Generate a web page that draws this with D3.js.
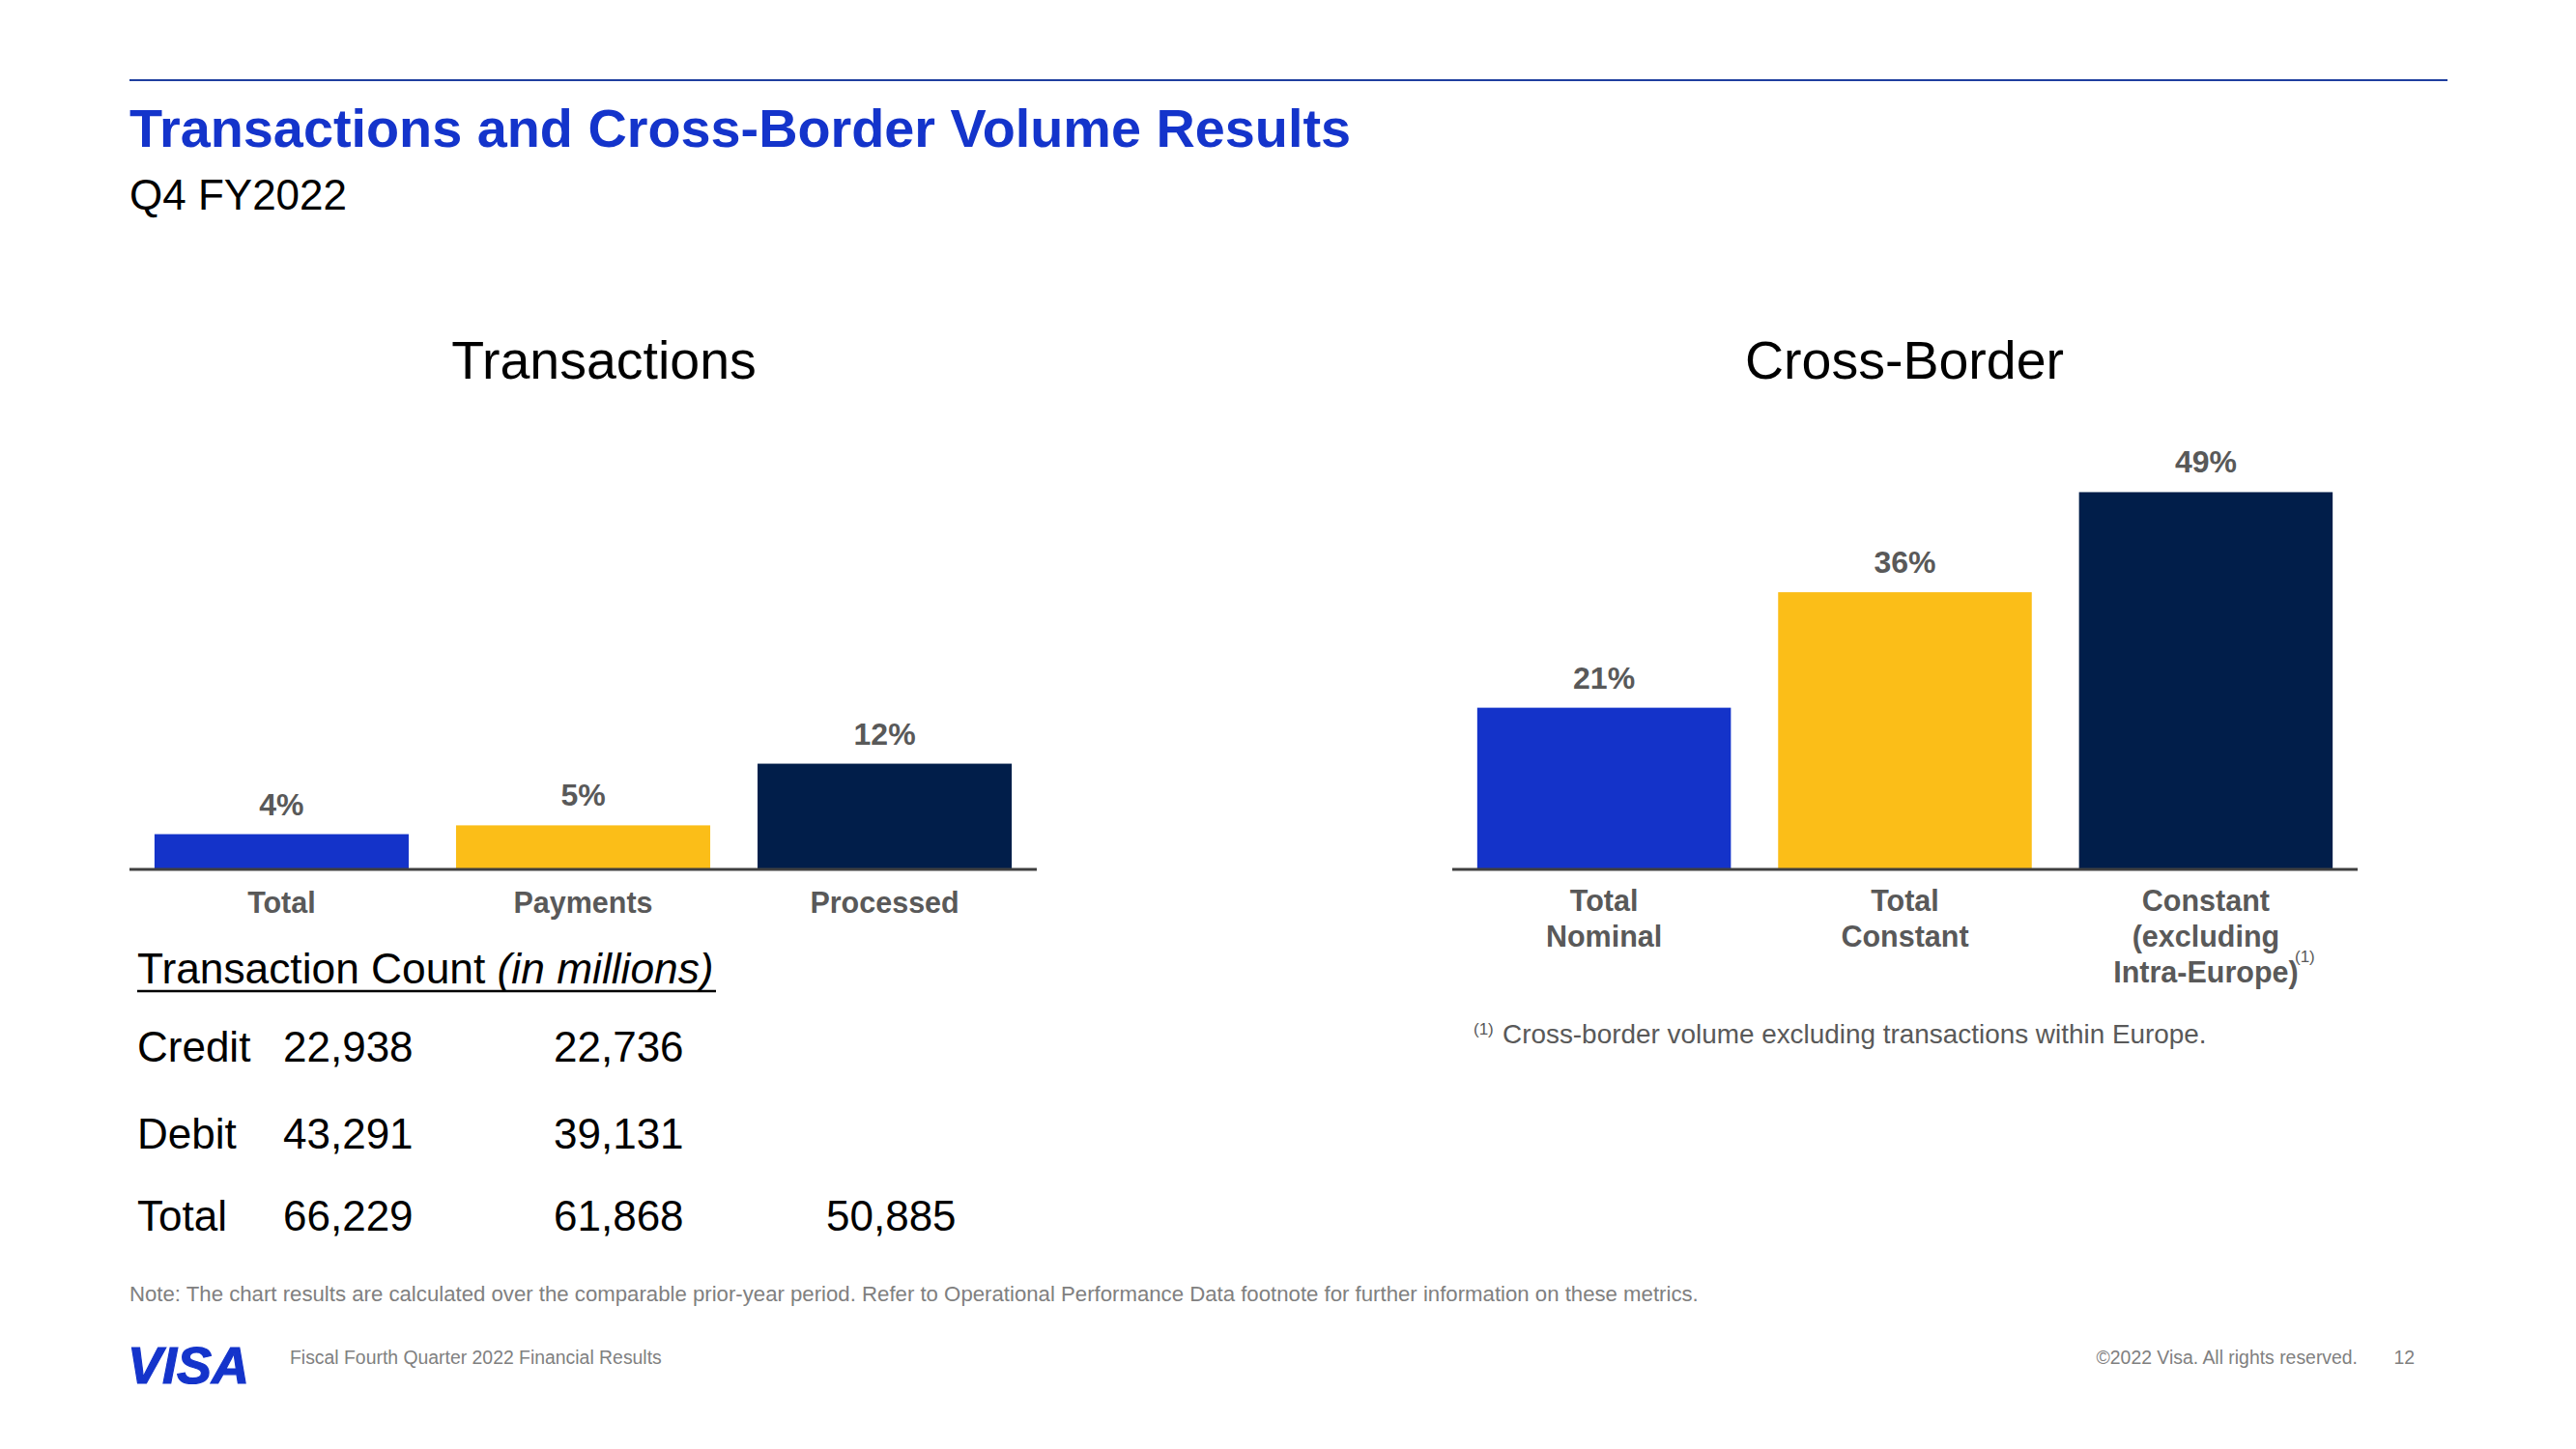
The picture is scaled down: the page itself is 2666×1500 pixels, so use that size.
<!DOCTYPE html>
<html>
<head>
<meta charset="utf-8">
<script src="https://cdn.jsdelivr.net/npm/d3@7"></script>
<style>
  html, body { margin: 0; padding: 0; background: #ffffff; }
  svg { display: block; font-family: "Liberation Sans", Arial, sans-serif; }
</style>
</head>
<body>
<svg id="chart" width="2666" height="1500"></svg>
<script>
// ---------------- data ----------------
const txCategories = ["Total", "Payments", "Processed"];
const txGrowth = [4, 5, 12];                       // % growth
const cbCategories = [["Total", "Nominal"], ["Total", "Constant"], ["Constant", "(excluding", "Intra-Europe)"]];
const cbGrowth = [21, 36, 49];                     // % growth
const barPalette = ["#1433C9", "#FBBE18", "#011E4A"];
const countRowLabels = ["Credit", "Debit", "Total"];
const countTotal = [22938, 43291, 66229];
const countPayments = [22736, 39131, 61868];
const countProcessed = [null, null, 50885];

// ---------------- setup ----------------
const svg = d3.select("#chart");
const grayLabel = "#595959";
const fmt = d3.format(",");

svg.append("rect").attr("width", 2666).attr("height", 1500).attr("fill", "#fff");

// header
svg.append("line").attr("x1", 134).attr("x2", 2533).attr("y1", 83).attr("y2", 83)
  .attr("stroke", "#1f3f9f").attr("stroke-width", 2);
svg.append("text").attr("x", 134).attr("y", 152)
  .attr("font-size", 55.8).attr("font-weight", "bold").attr("fill", "#1434CB")
  .text("Transactions and Cross-Border Volume Results");
svg.append("text").attr("x", 134).attr("y", 217)
  .attr("font-size", 44).attr("fill", "#000")
  .text("Q4 FY2022");

// ---------------- generic bar chart ----------------
function barChart(opts) {
  const g = svg.append("g");
  const x = d3.scaleBand().domain(d3.range(opts.values.length))
    .range([opts.x0, opts.x1]).paddingInner(0.157).paddingOuter(0.083);
  const y = d3.scaleLinear().domain([0, 50]).range([opts.base, opts.base - opts.pxPer * 50]);

  g.append("text").attr("x", opts.titleX).attr("y", 392).attr("text-anchor", "middle")
    .attr("font-size", 55.5).attr("fill", "#000").text(opts.title);

  g.selectAll("rect.bar").data(opts.values).join("rect").attr("class", "bar")
    .attr("x", (d, i) => x(i)).attr("width", x.bandwidth())
    .attr("y", d => y(d)).attr("height", d => y(0) - y(d))
    .attr("fill", (d, i) => barPalette[i]);

  g.selectAll("text.val").data(opts.values).join("text").attr("class", "val")
    .attr("x", (d, i) => x(i) + x.bandwidth() / 2).attr("y", d => y(d) - 20)
    .attr("text-anchor", "middle").attr("font-size", 32).attr("font-weight", "bold")
    .attr("fill", grayLabel).text(d => d + "%");

  // axis baseline
  const axis = d3.axisBottom(x).tickSize(0).tickFormat("");
  const ag = g.append("g").attr("transform", `translate(0,${opts.base})`).call(axis);
  ag.select(".domain").attr("stroke", "#404040").attr("stroke-width", 3)
    .attr("d", `M${opts.x0},0H${opts.x1}`);

  // category labels
  opts.cats.forEach((lines, i) => {
    const t = g.append("text").attr("x", x(i) + x.bandwidth() / 2).attr("y", opts.labelY)
      .attr("text-anchor", "middle").attr("font-size", 30.5).attr("font-weight", "bold")
      .attr("fill", grayLabel);
    [].concat(lines).forEach((ln, k) => {
      t.append("tspan").attr("x", x(i) + x.bandwidth() / 2).attr("dy", k === 0 ? 0 : 37).text(ln);
    });
  });
  return { x, y, g };
}

const left = barChart({
  title: "Transactions", titleX: 625, values: txGrowth, cats: txCategories,
  x0: 134, x1: 1073, base: 900, pxPer: 9.12, labelY: 945
});

const right = barChart({
  title: "Cross-Border", titleX: 1971, values: cbGrowth, cats: cbCategories,
  x0: 1503, x1: 2440, base: 900, pxPer: 7.97, labelY: 943
});

// superscript on last cross-border label
svg.append("text").attr("x", 2375).attr("y", 996).attr("font-size", 17)
  .attr("fill", grayLabel).text("(1)");

// footnote
svg.append("text").attr("x", 1525).attr("y", 1071).attr("font-size", 17)
  .attr("fill", grayLabel).text("(1)");
svg.append("text").attr("x", 1555).attr("y", 1080).attr("font-size", 27.9)
  .attr("fill", grayLabel).text("Cross-border volume excluding transactions within Europe.");

// ---------------- transaction count table ----------------
const tHead = svg.append("text").attr("x", 142).attr("y", 1018).attr("font-size", 44.3).attr("fill", "#000");
tHead.append("tspan").text("Transaction Count ");
tHead.append("tspan").attr("font-style", "italic").text("(in millions)");
svg.append("line").attr("x1", 142).attr("x2", 741).attr("y1", 1026).attr("y2", 1026)
  .attr("stroke", "#000").attr("stroke-width", 2.5);

const rowY = d3.scaleOrdinal().domain(countRowLabels).range([1099, 1189, 1274]);
const colX = [142, 293, 573, 855];
const rows = countRowLabels.map((lab, i) => [lab, countTotal[i], countPayments[i], countProcessed[i]]);
rows.forEach(r => {
  r.forEach((v, c) => {
    if (v === null) return;
    svg.append("text").attr("x", colX[c]).attr("y", rowY(r[0])).attr("font-size", 44)
      .attr("fill", "#000").text(typeof v === "number" ? fmt(v) : v);
  });
});

// ---------------- footer ----------------
svg.append("text").attr("x", 134).attr("y", 1347).attr("font-size", 22.2).attr("fill", "#808080")
  .text("Note: The chart results are calculated over the comparable prior-year period. Refer to Operational Performance Data footnote for further information on these metrics.");

svg.append("text").attr("x", 132).attr("y", 1432).attr("font-size", 54)
  .attr("font-weight", "bold").attr("font-style", "italic").attr("fill", "#1434CB")
  .attr("stroke", "#1434CB").attr("stroke-width", 1.2)
  .text("VISA");
svg.append("text").attr("x", 300).attr("y", 1412).attr("font-size", 19.4).attr("fill", "#808080")
  .text("Fiscal Fourth Quarter 2022 Financial Results");
svg.append("text").attr("x", 2440).attr("y", 1412).attr("font-size", 19.4).attr("fill", "#808080")
  .attr("text-anchor", "end").text("©2022 Visa. All rights reserved.");
svg.append("text").attr("x", 2499).attr("y", 1412).attr("font-size", 19.4).attr("fill", "#808080")
  .attr("text-anchor", "end").text("12");
</script>
</body>
</html>
